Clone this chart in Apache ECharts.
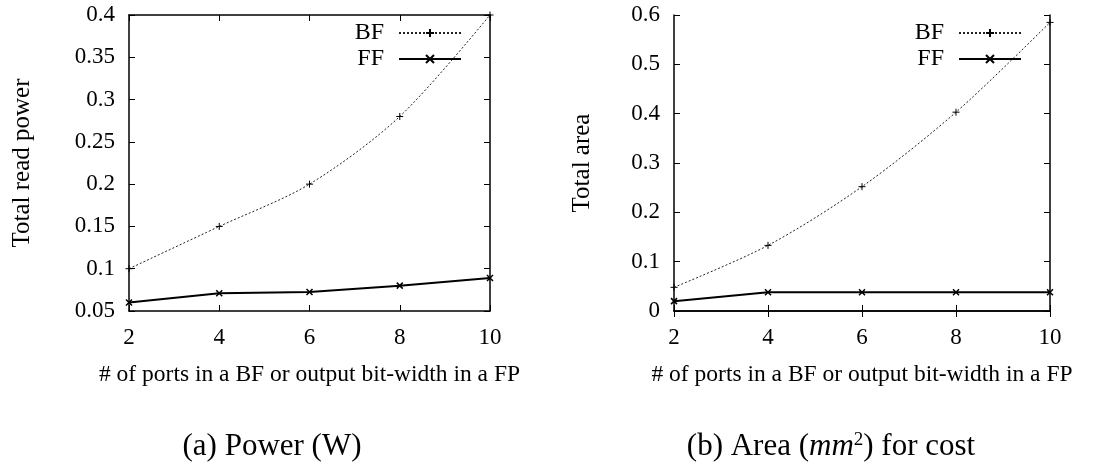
<!DOCTYPE html>
<html>
<head>
<meta charset="utf-8">
<script src="https://cdn.jsdelivr.net/npm/echarts@6/dist/echarts.min.js"></script>
<style>html,body{margin:0;padding:0;background:#fff;}#c{width:1119px;height:462px;}</style>
</head>
<body>
<div id="c"></div>
<script>
// ---- data ----
var xPorts = [2, 4, 6, 8, 10];
var powerBF = [0.100, 0.150, 0.200, 0.280, 0.400];
var powerFF = [0.060, 0.071, 0.0725, 0.080, 0.089];
var areaBF = [0.048, 0.133, 0.252, 0.403, 0.585];
var areaFF = [0.020, 0.038, 0.038, 0.038, 0.038];
var seriesNames = ['BF', 'FF'];
var xTitle = '# of ports in a BF or output bit-width in a FP';
var yTitles = ['Total read power', 'Total area'];

var FONT = 'Liberation Serif';
var PLUS = 'path://M0,5L10,5M5,0L5,10';
var CROSS = 'path://M0,0L10,10M0,10L10,0';

function pairs(xs, ys) { return xs.map(function (x, i) { return [x, ys[i]]; }); }
function fmt(v) { return String(Number(v.toFixed(2))); }

var axisLine = { show: true, lineStyle: { color: '#000', width: 1.5 } };
var tick = { show: true, inside: true, length: 6, lineStyle: { color: '#000', width: 1 } };

function xAxes(gi) {
  return [
    { gridIndex: gi, type: 'value', min: 2, max: 10, interval: 2, position: 'bottom',
      axisLine: axisLine, axisTick: tick, splitLine: { show: false },
      axisLabel: { color: '#000', fontFamily: FONT, fontSize: 23, margin: 15 },
      name: xTitle, nameLocation: 'middle', nameGap: 52,
      nameTextStyle: { color: '#000', fontFamily: FONT, fontSize: 23.5 } },
    { gridIndex: gi, type: 'value', min: 2, max: 10, interval: 2, position: 'top',
      axisLine: axisLine, axisTick: tick, splitLine: { show: false }, axisLabel: { show: false } }
  ];
}
function yAxes(gi, min, max, interval, name, gap) {
  return [
    { gridIndex: gi, type: 'value', min: min, max: max, interval: interval, position: 'left',
      axisLine: axisLine, axisTick: tick, splitLine: { show: false },
      axisLabel: { color: '#000', fontFamily: FONT, fontSize: 23, margin: 14, formatter: fmt },
      name: name, nameLocation: 'middle', nameGap: gap,
      nameTextStyle: { color: '#000', fontFamily: FONT, fontSize: 25 } },
    { gridIndex: gi, type: 'value', min: min, max: max, interval: interval, position: 'right',
      axisLine: axisLine, axisTick: tick, splitLine: { show: false }, axisLabel: { show: false } }
  ];
}

function bfSeries(xi, yi, data) {
  return { name: seriesNames[0], type: 'line', xAxisIndex: xi, yAxisIndex: yi,
    data: pairs(xPorts, data), smooth: 0.3, symbol: PLUS, symbolSize: 7,
    lineStyle: { color: '#222', width: 1, type: [2, 2] },
    itemStyle: { color: '#000', borderColor: '#000', borderWidth: 1 } };
}
function ffSeries(xi, yi, data) {
  return { name: seriesNames[1], type: 'line', xAxisIndex: xi, yAxisIndex: yi,
    data: pairs(xPorts, data), symbol: CROSS, symbolSize: 6,
    lineStyle: { color: '#000', width: 2 },
    itemStyle: { color: '#000', borderColor: '#000', borderWidth: 1.5 } };
}

function legend(right) {
  return { right: right, top: 16, orient: 'vertical', align: 'right', itemWidth: 62, itemHeight: 10,
    itemGap: 2, data: seriesNames, selectedMode: false,
    textStyle: { color: '#000', fontFamily: FONT, fontSize: 24, lineHeight: 24, padding: [0, 10, 0, 0] } };
}

var chart = echarts.init(document.getElementById('c'), null, { renderer: 'canvas' });
chart.setOption({
  animation: false,
  backgroundColor: '#fff',
  grid: [
    { left: 129, top: 15, width: 361, height: 296 },
    { left: 674, top: 15, width: 376, height: 296 }
  ],
  xAxis: xAxes(0).concat(xAxes(1)),
  yAxis: yAxes(0, 0.05, 0.4, 0.05, yTitles[0], 94).concat(yAxes(1, 0, 0.6, 0.1, yTitles[1], 79)),
  legend: [legend(652), legend(92)],
  title: [
    { text: '(a) Power (W)', left: 267, top: 426, textAlign: 'center',
      textStyle: { color: '#000', fontFamily: FONT, fontSize: 31, fontWeight: 'normal' } },
    { text: '(b) Area ({i|mm}{s|2}) for cost', left: 826, top: 426, textAlign: 'center',
      textStyle: { color: '#000', fontFamily: FONT, fontSize: 31, fontWeight: 'normal',
        rich: { i: { fontFamily: FONT, fontSize: 31, fontStyle: 'italic', color: '#000' },
                s: { fontFamily: FONT, fontSize: 19, color: '#000', padding: [0, 0, 13, 0] } } } }
  ],
  series: [
    bfSeries(0, 0, powerBF), ffSeries(0, 0, powerFF),
    bfSeries(2, 2, areaBF), ffSeries(2, 2, areaFF)
  ]
});
</script>
</body>
</html>
